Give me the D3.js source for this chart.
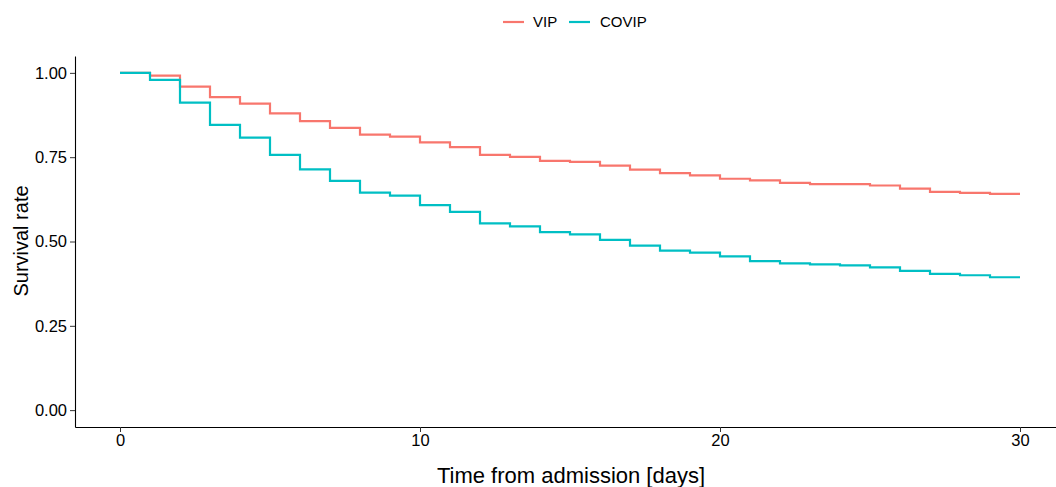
<!DOCTYPE html>
<html lang="en">
<head>
    <meta charset="UTF-8">
    <title>Survival curves</title>
    <script src="https://d3js.org/d3.v7.min.js"></script>
    <style>
        body { margin: 0; background: #fff; }
        text { font-family: "Liberation Sans", Arial, sans-serif; fill: #000; }
    </style>
</head>
<body>
    <div id="chart"></div>

    <script>
        // days 0..30, survival value holding from that day to the next
        const days = d3.range(0, 31);
        const vip = [1.000, 0.992, 0.959, 0.928, 0.909, 0.880, 0.857, 0.837, 0.817, 0.811,
                     0.794, 0.780, 0.757, 0.751, 0.739, 0.736, 0.725, 0.713, 0.703, 0.696,
                     0.686, 0.681, 0.674, 0.670, 0.670, 0.666, 0.657, 0.647, 0.644, 0.641,
                     0.641];
        const covip = [1.000, 0.979, 0.912, 0.846, 0.808, 0.757, 0.714, 0.680, 0.645, 0.636,
                       0.608, 0.588, 0.554, 0.545, 0.528, 0.521, 0.505, 0.488, 0.473, 0.467,
                       0.456, 0.442, 0.435, 0.432, 0.429, 0.423, 0.413, 0.404, 0.400, 0.394,
                       0.394];
        const series = [
            { name: "VIP", values: vip, color: "#F8766D" },
            { name: "COVIP", values: covip, color: "#00BFC4" }
        ];
        const xTicks = [0, 10, 20, 30];
        const yTicks = [0, 0.25, 0.5, 0.75, 1];

        const width = 1056, height = 487;
        const svg = d3.select("#chart")
            .append("svg")
            .attr("width", width)
            .attr("height", height);

        // panel with ggplot-style 5% expansion
        const x = d3.scaleLinear().domain([-1.5, 31.5]).range([75, 1065]);
        const y = d3.scaleLinear().domain([-0.05, 1.05]).range([427, 56]);

        const line = d3.line()
            .x(d => x(d[0]))
            .y(d => y(d[1]))
            .curve(d3.curveStepAfter);

        series.forEach(s => {
            svg.append("path")
                .datum(days.map((t, i) => [t, s.values[i]]))
                .attr("fill", "none")
                .attr("stroke", s.color)
                .attr("stroke-width", 2.2)
                .attr("d", line);
        });

        // axes
        const xAxis = svg.append("g")
            .attr("transform", `translate(0,${y.range()[0]})`)
            .call(d3.axisBottom(x).tickValues(xTicks).tickFormat(d3.format("d"))
                .tickSizeInner(5).tickSizeOuter(0).tickPadding(2));
        const yAxis = svg.append("g")
            .attr("transform", `translate(${x.range()[0]},0)`)
            .call(d3.axisLeft(y).tickValues(yTicks).tickFormat(d3.format(".2f"))
                .tickSizeInner(5).tickSizeOuter(0).tickPadding(3));

        [xAxis, yAxis].forEach(g => {
            g.select(".domain").attr("stroke", "#000").attr("stroke-width", 1.1);
            g.selectAll(".tick line").attr("stroke", "#333");
            g.selectAll(".tick text").attr("font-size", 16.5).attr("font-family", "Liberation Sans, Arial, sans-serif").attr("fill", "#000");
        });

        // axis titles
        svg.append("text")
            .attr("x", 571)
            .attr("y", 483)
            .attr("text-anchor", "middle")
            .attr("font-size", 22)
            .text("Time from admission [days]");

        svg.append("text")
            .attr("transform", "translate(28,241) rotate(-90)")
            .attr("text-anchor", "middle")
            .attr("font-size", 20)
            .text("Survival rate");

        // legend
        const legendItems = [
            { s: series[0], x: 503, tx: 533 },
            { s: series[1], x: 569, tx: 600 }
        ];
        legendItems.forEach(it => {
            svg.append("line")
                .attr("x1", it.x).attr("x2", it.x + 21)
                .attr("y1", 22).attr("y2", 22)
                .attr("stroke", it.s.color)
                .attr("stroke-width", 2.2);
            svg.append("text")
                .attr("x", it.tx)
                .attr("y", 27)
                .attr("font-size", 15)
                .text(it.s.name);
        });
    </script>
</body>
</html>
